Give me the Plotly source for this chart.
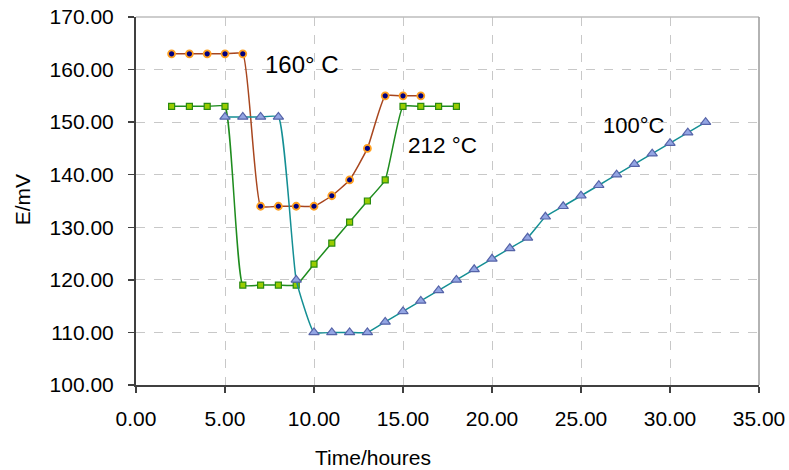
import plotly.graph_objects as go

# ---- data ----
x_160 = [2, 3, 4, 5, 6, 7, 8, 9, 10, 11, 12, 13, 14, 15, 16]
y_160 = [163, 163, 163, 163, 163, 134, 134, 134, 134, 136, 139, 145, 155, 155, 155]

x_212 = [2, 3, 4, 5, 6, 7, 8, 9, 10, 11, 12, 13, 14, 15, 16, 17, 18]
y_212 = [153, 153, 153, 153, 119, 119, 119, 119, 123, 127, 131, 135, 139, 153, 153, 153, 153]

x_100 = [5, 6, 7, 8, 9, 10, 11, 12, 13, 14, 15, 16, 17, 18, 19, 20, 21, 22, 23, 24,
         25, 26, 27, 28, 29, 30, 31, 32]
y_100 = [151, 151, 151, 151, 120, 110, 110, 110, 110, 112, 114, 116, 118, 120, 122, 124,
         126, 128, 132, 134, 136, 138, 140, 142, 144, 146, 148, 150]

labels = ["160° C", "212 °C", "100°C"]
label_pos = [(9.35, 161), (17.2, 145.5), (28.0, 149.3)]

x_title = "Time/houres"
y_title = "E/mV"

FONT = "Liberation Sans, Arial, sans-serif"

W, H = 789, 470
L, R, T, B = 135.5, 759.0, 17.3, 385.3   # plot area in pixels
SMOOTH = 0.4

fig = go.Figure()
fig.add_trace(go.Scatter(
    x=x_212, y=y_212, mode="lines+markers",
    line=dict(color="#1E8C1E", width=1.5, shape="spline", smoothing=SMOOTH),
    marker=dict(symbol="square", size=6, color="#99CC00",
                line=dict(color="#2A8A10", width=1.2)),
    showlegend=False))
fig.add_trace(go.Scatter(
    x=x_160, y=y_160, mode="lines+markers",
    line=dict(color="#A8461E", width=1.5, shape="spline", smoothing=SMOOTH),
    marker=dict(symbol="circle", size=7, color="#000080",
                line=dict(color="#FFA020", width=1.8)),
    showlegend=False))
fig.add_trace(go.Scatter(
    x=x_100, y=y_100, mode="lines+markers",
    line=dict(color="#148F94", width=1.5, shape="spline", smoothing=SMOOTH),
    marker=dict(symbol="triangle-up", size=9, color="#93A5E3",
                line=dict(color="#5563A8", width=1.2)),
    showlegend=False))

for (t, (ax, ay), fs) in zip(labels, label_pos, [24, 22.5, 22]):
    fig.add_annotation(x=ax, y=ay, text=t, showarrow=False, xref="x", yref="y",
                       font=dict(size=fs, color="black", family=FONT))

fig.add_annotation(text=x_title, xref="paper", yref="paper",
                   x=(373 - L) / (R - L), y=-(458 - B) / (B - T),
                   xanchor="center", yanchor="middle", showarrow=False,
                   font=dict(size=21, color="black", family=FONT))
fig.add_annotation(text=y_title, xref="paper", yref="paper",
                   x=-(L - 22) / (R - L), y=(B - 200) / (B - T),
                   xanchor="center", yanchor="middle", textangle=-90, showarrow=False,
                   font=dict(size=21, color="black", family=FONT))

fig.update_layout(
    width=W, height=H,
    margin=dict(l=L, r=W - R, t=T, b=H - B, autoexpand=False),
    paper_bgcolor="white", plot_bgcolor="white",
    font=dict(family=FONT, size=21, color="black"),
)

fig.update_xaxes(range=[0, 35], dtick=5, tick0=0, tickformat=".2f", automargin=False,
                 showgrid=True, gridcolor="#C8C8C8", griddash="dash", gridwidth=1,
                 showline=True, linecolor="#404040", linewidth=2,
                 ticks="outside", ticklen=6, tickcolor="#404040", tickwidth=1.5,
                 ticklabelstandoff=8, zeroline=False, ticklabeloverflow="allow",
                 tickfont=dict(size=21, color="black", family=FONT))
fig.update_yaxes(range=[100, 170], dtick=10, tick0=100, tickformat=".2f", automargin=False,
                 showgrid=True, gridcolor="#C8C8C8", griddash="dash", gridwidth=1,
                 showline=True, linecolor="#404040", linewidth=2,
                 ticks="outside", ticklen=6, tickcolor="#404040", tickwidth=1.5,
                 ticklabelstandoff=10, zeroline=False, ticklabeloverflow="allow",
                 tickfont=dict(size=21, color="black", family=FONT))

# plot area border (top and right) in light gray
fig.add_shape(type="line", xref="paper", yref="paper", x0=0, x1=1, y0=1, y1=1,
              line=dict(color="#BDBDBD", width=1.5))
fig.add_shape(type="line", xref="paper", yref="paper", x0=1, x1=1, y0=0, y1=1,
              line=dict(color="#9A9A9A", width=1.5))

# remove the default 8px page margin so the figure sits at the window origin
fig.write_html("out.html",
               config={"displayModeBar": False, "staticPlot": True},
               post_script="document.body.style.margin='0px';"
                           "document.body.style.overflow='hidden';")
